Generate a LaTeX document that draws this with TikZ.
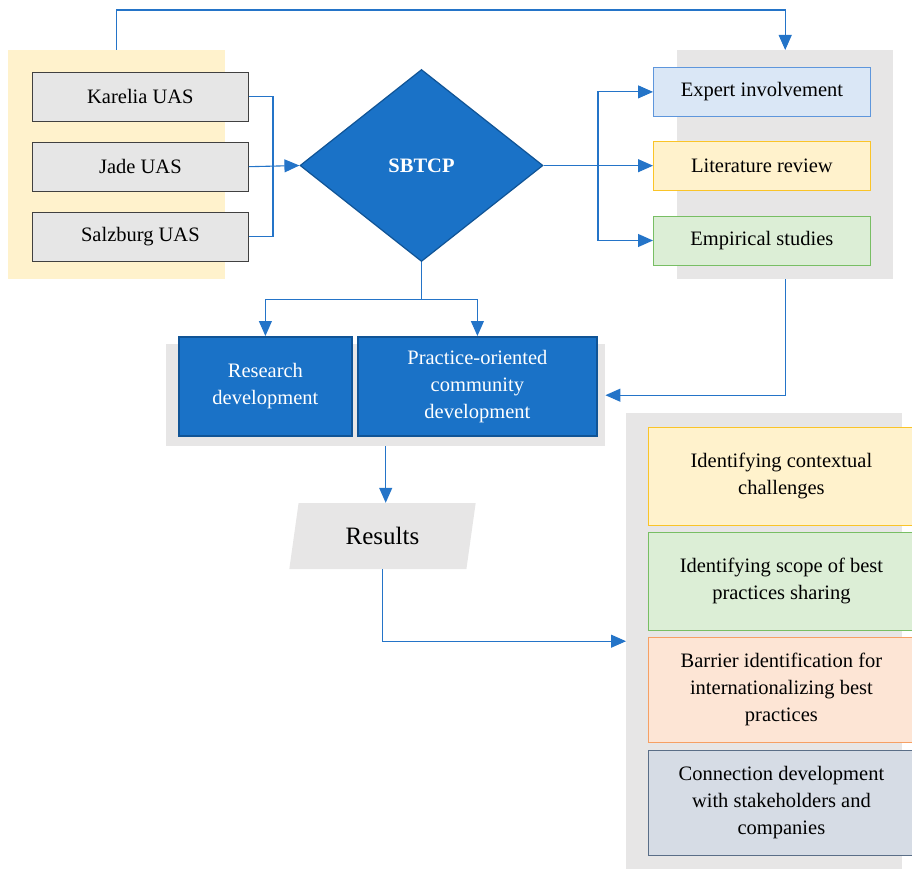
\documentclass[tikz,border=0pt]{standalone}
\usepackage{fontspec}
\setmainfont{Liberation Serif}
\usepackage{xcolor}
\usetikzlibrary{positioning, arrows.meta}
\usetikzlibrary{shapes, shapes.geometric}

\definecolor{lineblue}{RGB}{36,116,200}
\definecolor{deepblue}{RGB}{26,114,199}
\definecolor{deepedge}{RGB}{16,84,150}
\definecolor{panelgray}{RGB}{231,230,230}
\definecolor{boxgray}{RGB}{230,230,230}
\definecolor{paleyellow}{RGB}{255,242,204}
\definecolor{yellowedge}{RGB}{250,196,40}
\definecolor{paleblue}{RGB}{218,231,246}
\definecolor{blueedge}{RGB}{94,150,220}
\definecolor{palegreen}{RGB}{220,238,214}
\definecolor{greenedge}{RGB}{120,190,100}
\definecolor{palepeach}{RGB}{253,229,213}
\definecolor{peachedge}{RGB}{246,160,100}
\definecolor{paleslate}{RGB}{214,220,229}
\definecolor{slateedge}{RGB}{90,110,135}

\begin{document}
\begin{tikzpicture}[x=1pt, y=-1pt, font=\fontsize{20.5}{27}\selectfont,
		node distance=20pt,
		flow/.style={draw=lineblue, line width=1.1pt},
		arr/.style={flow, -{Triangle[length=15pt,width=13pt]}},
		panel/.style={fill=#1, inner sep=0pt, anchor=north west},
		unibox/.style={draw=black!75, line width=0.8pt, fill=boxgray, minimum width=216pt, minimum height=49pt, inner sep=0pt},
		taskbox/.style={draw=#1edge, line width=0.8pt, fill=pale#1, minimum width=217pt, minimum height=49pt, inner sep=0pt},
		devbox/.style={draw=deepedge, line width=1.8pt, fill=deepblue, text=white, align=center, minimum height=99pt, inner sep=0pt, anchor=north west},
		goalbox/.style={draw=#1edge, line width=0.8pt, fill=pale#1, align=center, minimum width=266pt, inner sep=0pt, anchor=north west}]
	\useasboundingbox (0,0) rectangle (912,869);

	\node[panel=paleyellow, minimum width=217pt, minimum height=229pt] (unipanel) at (8,50) {};
	\node[panel=panelgray, minimum width=216pt, minimum height=229pt] (taskpanel) at (677,50) {};
	\node[panel=panelgray, minimum width=439pt, minimum height=102pt] (devpanel) at (166,344) {};
	\node[panel=panelgray, minimum width=276pt, minimum height=456pt] (goalpanel) at (626,413) {};

	\node[unibox, anchor=north west] (karelia) at (32,72) {Karelia UAS};
	\node[unibox, below=of karelia] (jade) {Jade UAS};
	\node[unibox, below=of jade] (salzburg) {Salzburg UAS};

	\node[diamond, draw=deepedge, line width=1.2pt, fill=deepblue, text=white, font=\fontsize{20.5}{27}\selectfont\bfseries,
		minimum width=243pt, minimum height=192pt, inner sep=0pt] (sbtcp) at (421.5,165.5) {SBTCP};

	\node[taskbox=blue, anchor=north west] (expert) at (653,67) {Expert involvement};
	\node[taskbox=yellow, below=24pt of expert] (literature) {Literature review};
	\node[taskbox=green, below=25pt of literature] (empirical) {Empirical studies};

	\node[devbox, minimum width=173pt] (research) at (178,336) {Research\\development};
	\node[devbox, minimum width=239pt] (practice) at (357,336) {Practice-oriented\\community\\development};

	\node[trapezium, trapezium stretches=true, trapezium left angle=77, trapezium right angle=103,
		fill=panelgray, minimum width=187pt, minimum height=66pt, inner sep=0pt,
		font=\fontsize{25}{30}\selectfont] (results) at (382.5,536) {Results};

	\node[goalbox=yellow, minimum height=98pt] (contextual) at (648,427) {Identifying contextual\\challenges};
	\node[goalbox=green, minimum height=98pt] (scope) at (648,532) {Identifying scope of best\\practices sharing};
	\node[goalbox=peach, minimum height=105pt] (barrier) at (648,637) {Barrier identification for\\internationalizing best\\practices};
	\node[goalbox=slate, minimum height=105pt] (connection) at (648,750) {Connection development\\with stakeholders and\\companies};

	\coordinate (unijoin) at (273,165.5);
	\coordinate (taskjoin) at (598,165.5);

	\draw[arr] (unipanel.north) -- ++(0,-40) -| (taskpanel.north);
	\draw[flow] (karelia.east) -| (unijoin);
	\draw[flow] (salzburg.east) -| (unijoin);
	\draw[arr] (jade.east) -- (sbtcp.west);
	\draw[flow] (sbtcp.east) -- (taskjoin);
	\draw[arr] (taskjoin) |- (expert.west);
	\draw[arr] (taskjoin) |- (literature.west);
	\draw[arr] (taskjoin) |- (empirical.west);
	\draw[arr] (sbtcp.south) -- ++(0,37) -| (research.north);
	\draw[arr] (sbtcp.south) -- ++(0,37) -| (practice.north);
	\draw[arr] (taskpanel.south) |- (devpanel.east);
	\draw[arr] (devpanel.south) -- (devpanel.south |- results.north);
	\draw[arr] (results.south) |- (goalpanel.west);
\end{tikzpicture}
\end{document}
